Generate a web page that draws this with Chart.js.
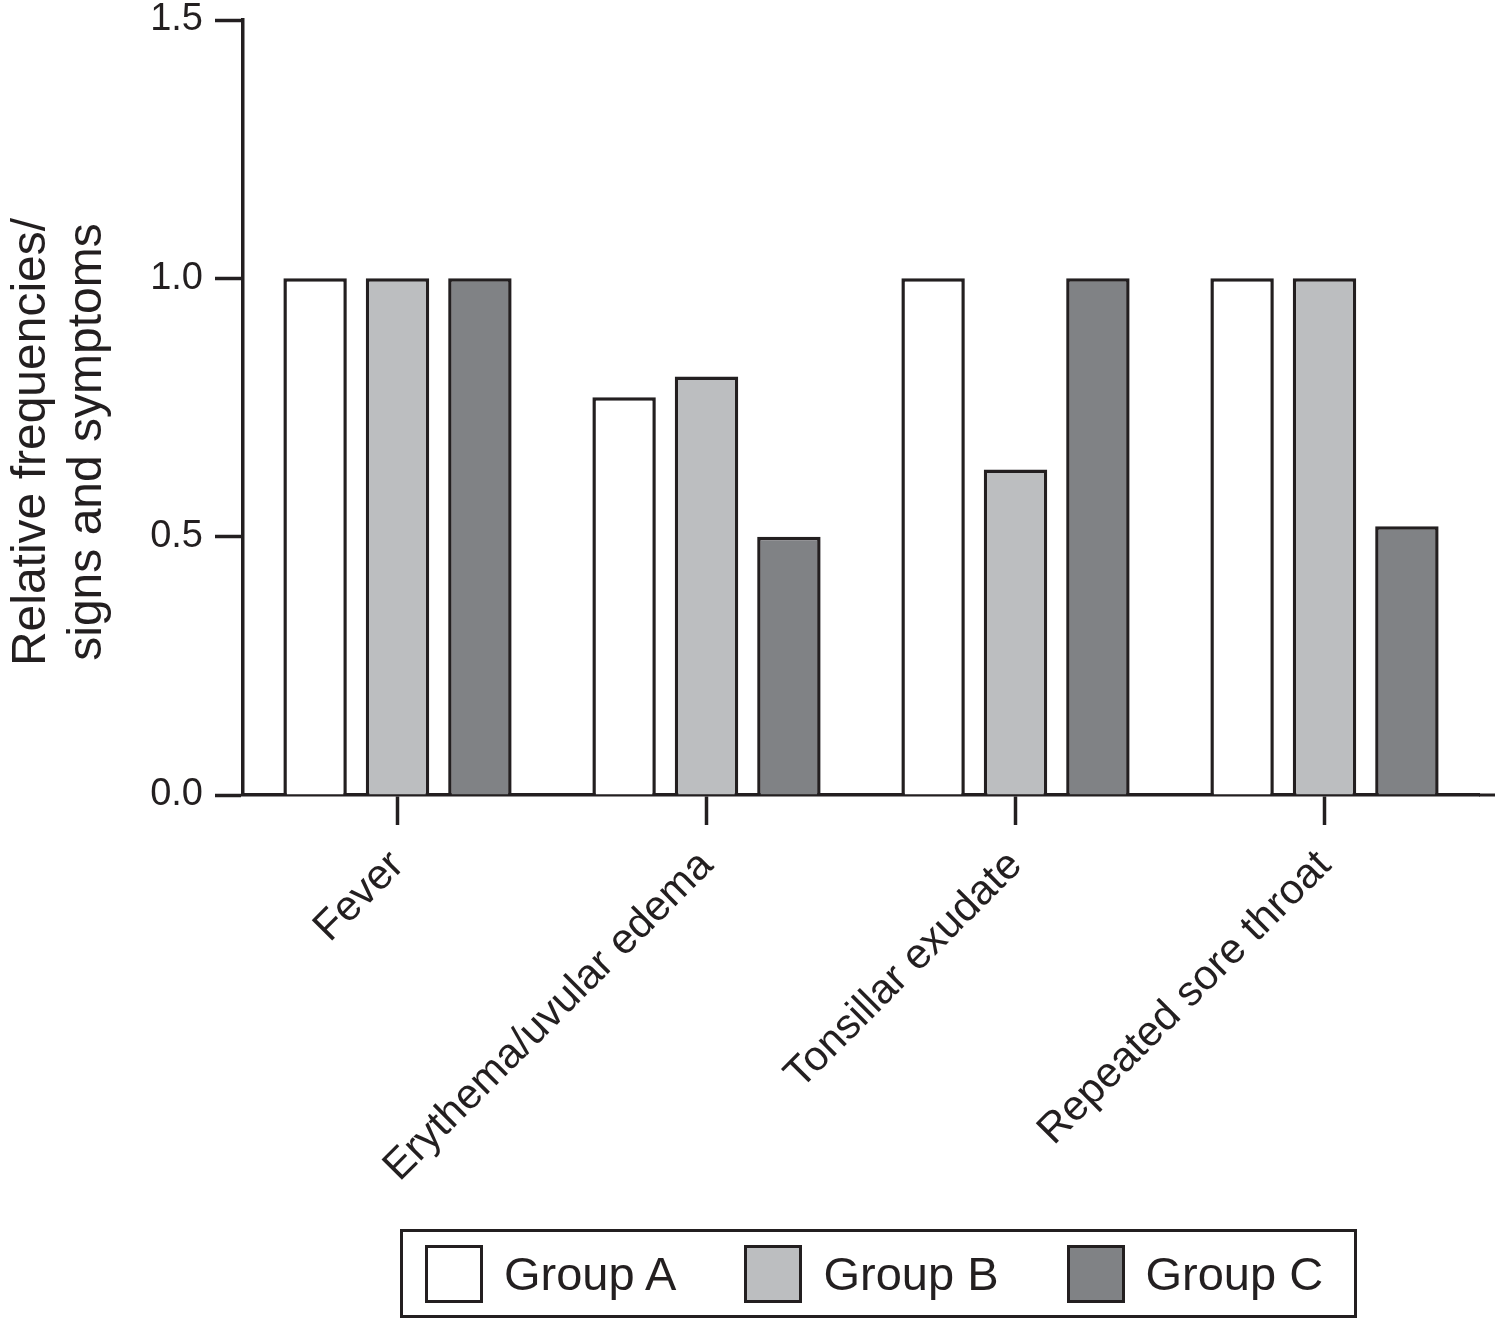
<!DOCTYPE html>
<html lang="en">
<head>
<meta charset="UTF-8">
<title>Relative frequencies of signs and symptoms</title>
<script src="https://cdn.jsdelivr.net/npm/chart.js"></script>
<style>
  html, body { margin: 0; padding: 0; background: #fff; }
  #wrap { position: relative; width: 1495px; height: 1321px; }
  #legend {
    position: absolute; left: 400px; top: 1229px; width: 951px; height: 83px;
    border: 3px solid #231f20; display: flex; align-items: center;
    font-family: "Liberation Sans", Arial, sans-serif; font-size: 47px; color: #231f20;
  }
  .item { display: flex; align-items: center; white-space: nowrap; margin-left: 22px; margin-right: 46px; }
  .swatch { width: 52px; height: 52px; border: 3px solid #231f20; margin-right: 21px; flex: none; }
</style>
</head>
<body>
<div id="wrap">
  <canvas id="chart" width="1495" height="1321"></canvas>
  <div id="legend"></div>
</div>
<script>
// data
var categories = ['Fever', 'Erythema/uvular edema', 'Tonsillar exudate', 'Repeated sore throat'];
var groupNames = ['Group A', 'Group B', 'Group C'];
var groupA = [1.0, 0.77, 1.0, 1.0];
var groupB = [1.0, 0.81, 0.63, 1.0];
var groupC = [1.0, 0.50, 1.0, 0.52];
var yTicks = [0.0, 0.5, 1.0, 1.5];
var yTitle = ['Relative frequencies/', 'signs and symptoms'];

var fills = ['#ffffff', '#bcbec0', '#808285'];
var ink = '#231f20';
var font = '"Liberation Sans", Arial, sans-serif';

// x axis line runs on to the page edge, and the y title sits a bit lower than centre
var extras = {
  id: 'extras',
  afterDraw: function (chart) {
    var c = chart.ctx, a = chart.chartArea;
    c.save();
    c.strokeStyle = ink;
    c.lineWidth = 3;
    c.beginPath();
    c.moveTo(a.right, a.bottom);
    c.lineTo(chart.width, a.bottom);
    c.stroke();

    c.translate(0, 442);
    c.rotate(-Math.PI / 2);
    c.fillStyle = ink;
    c.font = '48px ' + font;
    c.textAlign = 'center';
    c.textBaseline = 'middle';
    c.fillText(yTitle[0], 0, 32);
    c.fillText(yTitle[1], 0, 88);
    c.restore();
  }
};

var ctx = document.getElementById('chart').getContext('2d');
var chart = new Chart(ctx, {
  type: 'bar',
  data: {
    labels: categories,
    datasets: [groupA, groupB, groupC].map(function (vals, i) {
      return {
        label: groupNames[i],
        data: vals,
        backgroundColor: fills[i],
        borderColor: ink,
        borderWidth: 3.5,
        borderSkipped: 'start'
      };
    })
  },
  plugins: [extras],
  options: {
    responsive: false,
    animation: false,
    layout: { padding: { top: 20, right: 16, bottom: 126, left: 0 } },
    datasets: { bar: { categoryPercentage: 0.8, barPercentage: 0.77 } },
    plugins: { legend: { display: false }, tooltip: { enabled: false } },
    scales: {
      x: {
        offset: true,
        afterFit: function (s) { s.height = 400; s.paddingLeft = 0; s.paddingRight = 0; },
        grid: { offset: false, drawOnChartArea: false, tickLength: 30, tickWidth: 3.5, tickColor: ink },
        border: { color: ink, width: 3.5 },
        ticks: {
          color: ink, font: { family: font, size: 42 },
          minRotation: 45, maxRotation: 45, padding: 16, autoSkip: false
        }
      },
      y: {
        min: 0, max: 1.5,
        afterFit: function (s) { s.width = 243; s.paddingTop = 0; s.paddingBottom = 0; },
        afterBuildTicks: function (s) { s.ticks = yTicks.map(function (v) { return { value: v }; }); },
        grid: { drawOnChartArea: false, tickLength: 28, tickWidth: 3.5, tickColor: ink },
        border: { color: ink, width: 3.5 },
        ticks: {
          color: ink, font: { family: font, size: 38 }, padding: 12,
          callback: function (v) { return Number(v).toFixed(1); }
        }
      }
    }
  }
});

// legend box built from the dataset names and colours
var lg = document.getElementById('legend');
groupNames.forEach(function (name, i) {
  var it = document.createElement('div');
  it.className = 'item';
  it.innerHTML = '<div class="swatch" style="background:' + fills[i] + '"></div><span>' + name + '</span>';
  lg.appendChild(it);
});
</script>
</body>
</html>
